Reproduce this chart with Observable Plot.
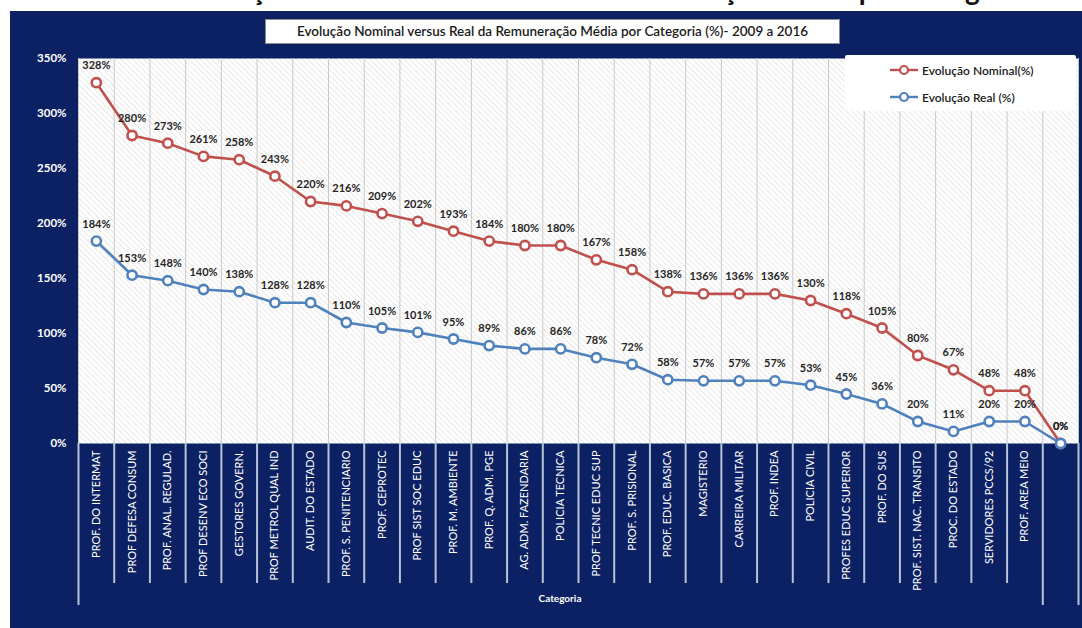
<!DOCTYPE html>
<html>
<head>
<meta charset="utf-8">
<script src="https://cdn.jsdelivr.net/npm/d3@7"></script>
<script src="https://cdn.jsdelivr.net/npm/@observablehq/plot@0.6"></script>
<style>
  html, body { margin: 0; padding: 0; background: #ffffff; }
  body { width: 1082px; height: 628px; position: relative; overflow: hidden; font-family: Lato, "Open Sans", sans-serif; }
  #topcut { position: absolute; left: 0; top: 0; width: 1082px; height: 11px; overflow: hidden; }
  #topcut div { position: absolute; left: 0; width: 1210px; top: -28px; text-align: center; font: bold 28px Lato, sans-serif; color: #111; white-space: nowrap; }
  #panel { position: absolute; left: 10px; top: 11px; width: 1072px; height: 617px; background: #0c2163; }
  #chart { position: absolute; left: 0; top: 0; }
  #title { position: absolute; left: 265px; top: 19px; width: 575px; height: 25px; background: #fff; border: 1px solid #8c8c8c; box-sizing: border-box; text-align: center; font: 600 13.5px Lato, sans-serif; line-height: 23px; color: #1a1a1a; white-space: nowrap; }
  #legend { position: absolute; left: 845px; top: 55px; width: 231px; height: 56px; background: #fff; border-radius: 2px; }
  .lg { position: absolute; left: 44px; height: 16px; display: flex; align-items: center; font: 600 12px Lato, sans-serif; color: #1a1a1a; white-space: nowrap; }
  .lg svg { margin-right: 3px; }
  #xlabel { position: absolute; left: 520px; top: 592px; width: 80px; text-align: center; font: bold 10px Lato, sans-serif; color: #fff; }
</style>
</head>
<body>
<div id="topcut"><div>Evolução Nominal versus Real da Remuneração Média por Categoria</div></div>
<div id="panel"><div id="chart"></div></div>
<div id="title">Evolução Nominal versus Real da Remuneração Média por Categoria (%)- 2009 a 2016</div>
<div id="legend"></div>
<div id="xlabel">Categoria</div>
<script>
const categories = [
  "PROF. DO INTERMAT", "PROF DEFESA CONSUM", "PROF. ANAL. REGULAD.", "PROF DESENV ECO SOCI",
  "GESTORES GOVERN.", "PROF METROL QUAL IND", "AUDIT. DO ESTADO", "PROF. S. PENITENCIARIO",
  "PROF. CEPROTEC", "PROF SIST SOC EDUC", "PROF. M. AMBIENTE", "PROF. Q. ADM. PGE",
  "AG. ADM. FAZENDARIA", "POLICIA TECNICA", "PROF TECNIC EDUC SUP", "PROF. S. PRISIONAL",
  "PROF. EDUC. BASICA", "MAGISTERIO", "CARREIRA MILITAR", "PROF. INDEA",
  "POLICIA CIVIL", "PROFES EDUC SUPERIOR", "PROF. DO SUS", "PROF. SIST. NAC. TRANSITO",
  "PROC. DO ESTADO", "SERVIDORES PCCS/92", "PROF. AREA MEIO", ""
];
const nominal = [328, 280, 273, 261, 258, 243, 220, 216, 209, 202, 193, 184, 180, 180, 167, 158, 138, 136, 136, 136, 130, 118, 105, 80, 67, 48, 48, 0];
const real    = [184, 153, 148, 140, 138, 128, 128, 110, 105, 101, 95, 89, 86, 86, 78, 72, 58, 57, 57, 57, 53, 45, 36, 20, 11, 20, 20, 0];
const yTicks = [0, 50, 100, 150, 200, 250, 300, 350];
const seriesNames = ["Evolução Nominal(%)", "Evolução Real (%)"];
const seriesColors = ["#c0504d", "#4f81bd"];

const rows = categories.map((c, i) => ({cat: c, nominal: nominal[i], real: real[i]}));

const W = 1072, H = 617, mL = 68, mR = 4, mT = 47, mB = 185;
const bw = (W - mL - mR) / categories.length;
const shortCats = categories.slice(1, -1);
const longCats = [categories[0], categories[categories.length - 1]];
const lastCat = [categories[categories.length - 1]];
const sepColor = "#b7c3d9";

const seriesMarks = (key, color) => [
  Plot.line(rows, {x: "cat", y: key, stroke: color, strokeWidth: 2.6}),
  Plot.dot(rows, {x: "cat", y: key, r: 4.6, fill: "white", stroke: color, strokeWidth: 2.6}),
  Plot.text(rows, {x: "cat", y: key, text: d => d[key] + "%", dy: -17, fill: "#262626", fontWeight: "bold", fontSize: 11})
];

const chart = Plot.plot({
  width: W, height: H,
  marginLeft: mL, marginRight: mR, marginTop: mT, marginBottom: mB,
  style: {background: "transparent", fontFamily: "Lato, 'Open Sans', sans-serif", overflow: "visible"},
  x: {type: "band", domain: categories, padding: 0, round: false, axis: null},
  y: {domain: [0, 350], axis: null},
  marks: [
    Plot.frame({fill: "url(#hatch)", stroke: null}),
    Plot.ruleX(categories, {x: d => d, dx: -bw / 2, stroke: "#c8c8c8", strokeWidth: 1}),
    Plot.ruleX(lastCat, {x: d => d, dx: bw / 2, stroke: "#c8c8c8", strokeWidth: 1}),
    Plot.axisX(shortCats, {tickSize: 140, dx: -bw / 2, tickFormat: () => "", stroke: sepColor, strokeWidth: 2, label: null}),
    Plot.axisX(longCats, {tickSize: 162, dx: -bw / 2, tickFormat: () => "", stroke: sepColor, strokeWidth: 2, label: null}),
    Plot.axisX(lastCat, {tickSize: 162, dx: bw / 2, tickFormat: () => "", stroke: sepColor, strokeWidth: 2, label: null}),
    Plot.axisX(categories, {tickSize: 0, tickPadding: 7, tickRotate: -90, fill: "white", fontSize: 11, label: null}),
    Plot.axisY(yTicks, {tickSize: 0, tickPadding: 12, tickFormat: d => d + "%", fill: "white", fontWeight: "bold", fontSize: 11.5, label: null}),
    ...seriesMarks("nominal", seriesColors[0]),
    ...seriesMarks("real", seriesColors[1])
  ]
});

// hatch pattern for plot background
const svg = d3.select(chart.tagName.toLowerCase() === "svg" ? chart : chart.querySelector("svg"));
const defs = svg.insert("defs", ":first-child");
const pat = defs.append("pattern").attr("id", "hatch").attr("patternUnits", "userSpaceOnUse")
  .attr("width", 4).attr("height", 4).attr("patternTransform", "rotate(-45)");
pat.append("rect").attr("width", 4).attr("height", 4).attr("fill", "#ffffff");
pat.append("line").attr("x1", 0).attr("y1", 0).attr("x2", 0).attr("y2", 4).attr("stroke", "#dcdcdc").attr("stroke-width", 1.3);

document.getElementById("chart").appendChild(chart);

// legend
const legend = d3.select("#legend");
seriesNames.forEach((name, i) => {
  const row = legend.append("div").attr("class", "lg").style("top", (7 + i * 27) + "px");
  const s = row.append("svg").attr("width", 30).attr("height", 12);
  s.append("line").attr("x1", 1).attr("x2", 29).attr("y1", 6).attr("y2", 6).attr("stroke", seriesColors[i]).attr("stroke-width", 2.4);
  s.append("circle").attr("cx", 15).attr("cy", 6).attr("r", 4).attr("fill", "white").attr("stroke", seriesColors[i]).attr("stroke-width", 2.2);
  row.append("span").text(name);
});
</script>
</body>
</html>
